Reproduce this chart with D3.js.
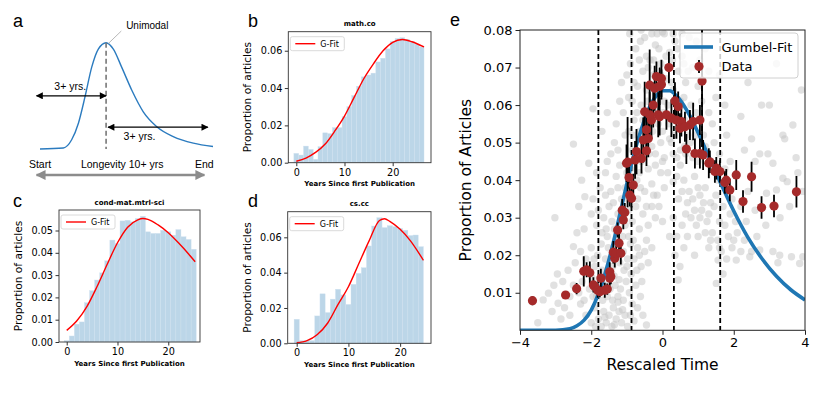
<!DOCTYPE html>
<html>
<head>
<meta charset="utf-8">
<script src="https://cdn.jsdelivr.net/npm/d3@7"></script>
<style>
  body { margin: 0; background: #fff; }
  svg { display: block; }
  text { font-family: "DejaVu Sans", sans-serif; fill: #000; }
  .sketch text, .letter { font-family: "Liberation Sans", Arial, sans-serif; }
</style>
</head>
<body>
<div id="chart"></div>
<script>
// ---- panel a: schematic curve (x: 0..10 years, y: 0..1 relative) ----
const sketchCurve = [
  [0, 0], [1.35, 0.01], [1.83, 0.087], [2.22, 0.243], [2.6, 0.49], [2.99, 0.77],
  [3.37, 0.94], [3.82, 1.0], [4.24, 0.94], [4.72, 0.77], [5.3, 0.555], [5.97, 0.35],
  [6.75, 0.21], [7.7, 0.117], [8.86, 0.055], [10, 0.024]
];
const sketchPeak = 3.82;

// ---- panels b, c, d: yearly histograms + G-Fit ----
const mathCoBars = [
  0.0050, 0.0041, 0.0089, 0.0071, 0.0018, 0.0086, 0.0160, 0.0156, 0.0188, 0.0188,
  0.0246, 0.0300, 0.0360, 0.0410, 0.0460, 0.0470, 0.0480, 0.0540, 0.0560, 0.0610,
  0.0650, 0.0666, 0.0670, 0.0660, 0.0650, 0.0636, 0.0620
];
const mathCoFit = [
  [0, 0.0008], [2, 0.0025], [4, 0.0055], [6, 0.0100], [8, 0.0170], [10, 0.0250],
  [12, 0.0350], [14, 0.0450], [16, 0.0530], [18, 0.0600], [20, 0.0645], [22, 0.0660],
  [24, 0.0648], [26.5, 0.0620]
];
const condMatBars = [
  0.0006, 0.0027, 0.0080, 0.0090, 0.0176, 0.0230, 0.0278, 0.0310, 0.0364, 0.0457,
  0.0442, 0.0543, 0.0546, 0.0539, 0.0554, 0.0564, 0.0494, 0.0487, 0.0487, 0.0501,
  0.0494, 0.0479, 0.0504, 0.0472, 0.0460, 0.0416
];
const condMatFit = [
  [0, 0.0052], [2, 0.0095], [4, 0.0160], [6, 0.0250], [8, 0.0350], [10, 0.0445],
  [12, 0.0515], [14, 0.0548], [15, 0.0554], [16, 0.0550], [18, 0.0525], [20, 0.0490],
  [22, 0.0445], [24, 0.0395], [25.3, 0.0360]
];
const csCcBars = [
  0.0136, 0.0015, 0.0015, 0.0015, 0.0155, 0.0280, 0.0174, 0.0250, 0.0306, 0.0274,
  0.0220, 0.0334, 0.0396, 0.0428, 0.0551, 0.0664, 0.0711, 0.0655, 0.0666, 0.0660,
  0.0650, 0.0640, 0.0610, 0.0613, 0.0547
];
const csCcFit = [
  [0, 0.0003], [2, 0.0015], [4, 0.0050], [6, 0.0115], [8, 0.0220], [10, 0.0320],
  [12, 0.0450], [14, 0.0580], [16, 0.0695], [17, 0.0705], [18, 0.0690], [20, 0.0645],
  [22, 0.0580], [24.5, 0.0470]
];

// ---- panel e: rescaled time ----
const gumbelFit = [
  [-4, 0], [-3, 0.00003], [-2.6, 0.0004], [-2.4, 0.0012], [-2.2, 0.0027], [-2.0, 0.0054],
  [-1.8, 0.0097], [-1.6, 0.0155], [-1.4, 0.0226], [-1.2, 0.0308], [-1.0, 0.0391],
  [-0.8, 0.0470], [-0.6, 0.0534], [-0.4, 0.0587], [-0.2, 0.0622], [0, 0.0638],
  [0.2, 0.0638], [0.4, 0.0624], [0.6, 0.0599], [0.8, 0.0566], [1.0, 0.0526],
  [1.2, 0.0484], [1.4, 0.0441], [1.6, 0.0399], [2.0, 0.0318], [2.4, 0.0247],
  [2.8, 0.0190], [3.2, 0.0144], [3.6, 0.0108], [4.0, 0.0081]
];
// [x, y, error]
const rescaledData = [
  [-3.65, 0.0079, 0.0012], [-2.72, 0.0094, 0.0008], [-2.41, 0.0111, 0.0015],
  [-2.21, 0.0157, 0.0040], [-2.13, 0.0161, 0.0020], [-2.04, 0.0153, 0.0030],
  [-1.94, 0.0121, 0.0020], [-1.90, 0.0116, 0.0015], [-1.82, 0.0107, 0.0020],
  [-1.76, 0.0103, 0.0015], [-1.73, 0.0139, 0.0025], [-1.62, 0.0107, 0.0020],
  [-1.55, 0.0110, 0.0015], [-1.48, 0.0139, 0.0020], [-1.48, 0.0156, 0.0025],
  [-1.45, 0.0143, 0.0020], [-1.38, 0.0208, 0.0030], [-1.34, 0.0192, 0.0025],
  [-1.30, 0.0205, 0.0020], [-1.22, 0.0232, 0.0025], [-1.17, 0.0205, 0.0030],
  [-1.26, 0.0267, 0.0020], [-1.10, 0.0294, 0.0025], [-1.13, 0.0320, 0.0030],
  [-1.06, 0.0314, 0.0025], [-0.92, 0.0360, 0.0030], [-0.87, 0.0352, 0.0025],
  [-0.82, 0.0387, 0.0030], [-0.94, 0.0407, 0.0030], [-1.01, 0.0445, 0.0050],
  [-0.98, 0.0448, 0.0120], [-0.77, 0.0454, 0.0050], [-0.73, 0.0476, 0.0060],
  [-0.59, 0.0458, 0.0040], [-0.45, 0.0478, 0.0040], [-0.54, 0.0507, 0.0060],
  [-0.40, 0.0511, 0.0050], [-0.45, 0.0534, 0.0050], [-0.31, 0.0560, 0.0050],
  [-0.36, 0.0574, 0.0060], [-0.12, 0.0574, 0.0060], [-0.50, 0.0582, 0.0080],
  [-0.26, 0.0600, 0.0060], [-0.36, 0.0653, 0.0095], [-0.22, 0.0645, 0.0060],
  [-0.17, 0.0676, 0.0040], [-0.03, 0.0671, 0.0050], [-0.03, 0.0655, 0.0040],
  [-0.08, 0.0650, 0.0050], [0.18, 0.0700, 0.0042], [-0.08, 0.0569, 0.0050],
  [0.11, 0.0574, 0.0040], [0.25, 0.0565, 0.0050], [0.35, 0.0611, 0.0050],
  [0.44, 0.0596, 0.0040], [0.39, 0.0560, 0.0050], [0.53, 0.0556, 0.0040],
  [0.49, 0.0538, 0.0040], [0.63, 0.0542, 0.0040], [0.77, 0.0547, 0.0040],
  [0.86, 0.0556, 0.0050], [1.05, 0.0560, 0.0040], [1.11, 0.0664, 0.0175],
  [0.67, 0.0483, 0.0040], [0.91, 0.0471, 0.0040], [1.05, 0.0471, 0.0040],
  [1.14, 0.0467, 0.0040], [1.30, 0.0445, 0.0040], [1.33, 0.0449, 0.0030],
  [1.47, 0.0423, 0.0030], [1.51, 0.0432, 0.0030], [1.61, 0.0423, 0.0030],
  [1.79, 0.0400, 0.0030], [1.75, 0.0394, 0.0030], [1.89, 0.0374, 0.0030],
  [2.07, 0.0414, 0.0040], [2.50, 0.0409, 0.0040], [2.26, 0.0343, 0.0030],
  [2.78, 0.0327, 0.0030], [3.13, 0.0331, 0.0030], [3.76, 0.0369, 0.0042]
];
const fieldPoints = [
  [-2.15, 0.004], [-2.0, 0.002], [-1.9, 0.006], [-1.8, 0.003], [-1.72, 0.001], [-1.65, 0.005],
  [-1.58, 0.002], [-1.5, 0.004], [-1.42, 0.001], [-1.38, 0.006], [-1.3, 0.003], [-1.22, 0.005],
  [-1.15, 0.002], [-1.05, 0.004], [-0.98, 0.001], [-0.45, 0.0014], [-2.3, 0.007], [-1.95, 0.009],
  [-2.5, 0.012], [-2.35, 0.010], [-2.2, 0.008], [-2.05, 0.011], [-1.98, 0.014], [-1.85, 0.009],
  [-1.78, 0.013], [-1.68, 0.008], [-1.6, 0.012], [-1.55, 0.009], [-1.47, 0.011], [-1.4, 0.008],
  [-1.33, 0.012], [-1.25, 0.009], [-1.18, 0.011], [-1.1, 0.008], [-1.02, 0.013], [-0.93, 0.010],
  [-0.85, 0.007], [-0.75, 0.012], [-1.45, 0.014], [-1.7, 0.016],
  [-2.45, 0.018], [-2.3, 0.021], [-2.15, 0.019], [-2.0, 0.022], [-1.9, 0.017], [-1.82, 0.020],
  [-1.72, 0.023], [-1.6, 0.019], [-1.52, 0.022], [-1.4, 0.017], [-1.3, 0.024], [-1.2, 0.018],
  [-1.1, 0.021], [-1.0, 0.017], [-0.9, 0.023], [-0.8, 0.019], [-0.7, 0.022], [-0.6, 0.017],
  [-0.5, 0.021], [-0.45, 0.024], [-0.95, 0.025], [-1.55, 0.025],
  [-2.2, 0.027], [-2.0, 0.031], [-1.85, 0.028], [-1.65, 0.030], [-1.5, 0.033], [-1.35, 0.027],
  [-1.25, 0.031], [-1.15, 0.035], [-1.05, 0.028], [-0.95, 0.032], [-0.85, 0.029], [-0.75, 0.033],
  [-0.65, 0.027], [-0.55, 0.031], [-0.4, 0.028], [-0.3, 0.033], [-0.2, 0.030], [-0.7, 0.035],
  [-1.7, 0.026],
  [-2.27, 0.040], [-2.18, 0.0356], [-2.07, 0.0445], [-1.75, 0.038], [-1.6, 0.042], [-1.45, 0.037],
  [-1.3, 0.041], [-1.2, 0.044], [-1.05, 0.038], [-0.9, 0.043], [-0.8, 0.039], [-0.65, 0.042],
  [-0.5, 0.037], [-0.4, 0.043], [-0.3, 0.039], [-0.15, 0.036], [-0.05, 0.042], [0.05, 0.038],
  [-0.6, 0.045],
  [-1.88, 0.001], [-1.62, 0.0035], [-1.35, 0.0015], [-1.25, 0.0075], [-1.12, 0.0055], [-0.9, 0.004],
  [-0.8, 0.0025], [-0.7, 0.006], [-0.62, 0.009], [-0.55, 0.004], [-2.25, 0.013], [-2.1, 0.016],
  [-1.92, 0.019], [-1.75, 0.0105], [-1.52, 0.016], [-1.36, 0.0145], [-1.22, 0.0135], [-1.08, 0.016],
  [-0.98, 0.019], [-0.88, 0.015], [-0.72, 0.016], [-0.58, 0.013], [-0.4, 0.018], [-0.3, 0.022],
  [-0.65, 0.020], [-0.82, 0.024], [-1.12, 0.025], [-1.42, 0.029], [-1.58, 0.027], [-1.8, 0.032],
  [-1.95, 0.035], [-1.12, 0.031], [-0.98, 0.035], [-0.62, 0.038], [-0.45, 0.033], [-0.25, 0.036],
  [-0.1, 0.033], [0.0, 0.029], [-0.88, 0.038], [-1.38, 0.034], [-1.6, 0.036], [-1.25, 0.038],
  [-0.72, 0.040], [-0.2, 0.044], [0.15, 0.042], [-1.0, 0.042], [-1.55, 0.045], [-1.85, 0.042],
  [-3.02, 0.030], [-2.5, 0.0223], [-3.2, 0.0099], [-3.35, 0.0081], [-2.93, 0.0072], [-3.1, 0.005],
  [-2.75, 0.006], [-2.6, 0.004], [-2.8, 0.013], [-2.65, 0.016], [-2.5, 0.0496], [-3.5, 0.002],
  [-2.95, 0.015], [-2.4, 0.026], [-2.6, 0.009], [-2.85, 0.003], [-3.05, 0.012], [-2.35, 0.033],
  [-1.15, 0.066], [-1.1, 0.058], [-1.05, 0.052], [-0.95, 0.062], [-0.9, 0.071], [-0.85, 0.048],
  [-0.8, 0.056], [-0.75, 0.075], [-0.7, 0.065], [-0.65, 0.053], [-0.6, 0.060], [-0.55, 0.069],
  [-0.5, 0.078], [-0.45, 0.064], [-0.4, 0.055], [-0.35, 0.072], [-0.3, 0.049], [-0.25, 0.068],
  [-0.2, 0.076], [-0.15, 0.058], [-0.1, 0.063], [-0.05, 0.071], [0.0, 0.053], [0.05, 0.079],
  [0.1, 0.067], [0.15, 0.060], [0.2, 0.074], [0.25, 0.050], [0.3, 0.064], [0.35, 0.077],
  [0.4, 0.057], [0.45, 0.069], [0.5, 0.048], [0.55, 0.073], [0.6, 0.062], [0.65, 0.066],
  [0.7, 0.052], [0.75, 0.078], [0.8, 0.060], [0.85, 0.070], [-0.92, 0.079], [-0.6, 0.080],
  [-0.3, 0.079], [0.0, 0.0795], [0.3, 0.079], [-0.7, 0.047], [-0.5, 0.050], [-0.2, 0.047],
  [0.05, 0.046], [0.2, 0.051], [0.4, 0.046], [-0.1, 0.075], [0.1, 0.073], [-0.4, 0.070],
  [-0.8, 0.066], [-0.65, 0.072], [0.5, 0.061], [0.25, 0.066], [-0.25, 0.058], [0.05, 0.061],
  [-0.05, 0.050], [-1.25, 0.048], [-1.3, 0.055], [-1.2, 0.061], [-1.35, 0.050], [-1.45, 0.047],
  [-1.55, 0.058], [-1.7, 0.053], [-1.95, 0.059], [1.0, 0.065], [1.05, 0.072], [0.95, 0.058],
  [1.2, 0.075], [1.3, 0.069], [1.3, 0.058], [1.5, 0.062], [1.4, 0.055],
  [-1.0, 0.068], [-0.85, 0.061], [-0.72, 0.058], [-0.55, 0.056], [-0.42, 0.061], [-0.28, 0.053],
  [-0.12, 0.055], [0.02, 0.058], [0.18, 0.055], [0.32, 0.052], [0.48, 0.055], [0.62, 0.056],
  [0.78, 0.050], [0.92, 0.052], [-0.95, 0.053], [-0.62, 0.077], [-0.45, 0.073], [-0.25, 0.072],
  [-0.05, 0.068], [0.15, 0.070], [0.28, 0.072], [0.42, 0.075], [0.6, 0.071], [0.72, 0.069],
  [0.95, 0.077], [-0.15, 0.079], [0.55, 0.079], [-0.82, 0.052], [-0.38, 0.047], [0.0, 0.045],
  [0.3, 0.047], [0.62, 0.049], [0.85, 0.046], [1.1, 0.061], [1.15, 0.052],
  [0.3, 0.0396], [0.45, 0.035], [0.6, 0.040], [0.75, 0.037], [0.9, 0.041], [1.05, 0.036],
  [0.8, 0.030], [0.95, 0.028], [1.1, 0.032], [1.25, 0.029], [1.4, 0.026], [1.55, 0.024],
  [1.65, 0.021], [1.75, 0.028], [1.85, 0.025], [1.95, 0.022], [2.1, 0.026], [2.3, 0.024],
  [2.5, 0.021], [1.2, 0.038], [1.35, 0.034], [1.5, 0.036], [1.7, 0.033], [1.9, 0.031],
  [2.05, 0.029], [2.2, 0.033], [0.55, 0.028], [0.7, 0.025], [0.5, 0.044], [0.65, 0.047],
  [1.0, 0.045], [1.2, 0.049], [1.45, 0.050], [0.49, 0.017], [0.44, 0.0134], [1.51, 0.0125],
  [0.4, 0.041], [0.55, 0.037], [0.7, 0.034], [0.85, 0.035], [1.0, 0.038], [1.15, 0.034],
  [1.3, 0.031], [1.45, 0.033], [1.6, 0.029], [0.65, 0.031], [0.9, 0.032], [1.05, 0.030],
  [1.2, 0.026], [1.35, 0.024], [1.6, 0.022], [1.8, 0.019], [2.0, 0.024], [2.2, 0.021],
  [2.35, 0.029], [1.95, 0.035], [1.55, 0.040], [1.75, 0.043], [2.4, 0.037], [2.65, 0.025],
  [0.4, 0.025], [0.6, 0.022], [1.0, 0.025], [0.35, 0.020],
  [1.7, 0.015], [1.56, 0.0187], [2.07, 0.0187], [2.45, 0.0196], [2.73, 0.0214], [3.1, 0.021],
  [3.29, 0.020], [3.24, 0.018], [3.62, 0.0196], [3.85, 0.0178], [3.94, 0.0196], [2.92, 0.0365],
  [3.2, 0.0374], [3.38, 0.0405], [3.57, 0.033], [3.94, 0.037], [3.5, 0.0396], [2.78, 0.060],
  [3.0, 0.060], [3.9, 0.064], [3.2, 0.071], [2.2, 0.057], [3.66, 0.0547], [2.73, 0.047],
  [2.96, 0.047], [3.38, 0.052], [3.43, 0.051], [3.1, 0.0445], [3.8, 0.042], [2.6, 0.045],
  [2.3, 0.048], [1.8, 0.052], [1.6, 0.047], [2.9, 0.028], [3.3, 0.030], [2.6, 0.032],
  [1.3, 0.022], [0.9, 0.020], [0.3, 0.030], [0.2, 0.025], [2.5, 0.051], [1.9, 0.045],
  [1.75, 0.060], [2.4, 0.066], [1.6, 0.068], [3.75, 0.046]
];
const cutoffs = [-1.8, -0.87, 0.32, 1.62];
const partialCutoff = 1.11;
const eYTicks = [0.01, 0.02, 0.03, 0.04, 0.05, 0.06, 0.07, 0.08];
const eXTicks = [-4, -2, 0, 2, 4];

const width = 830, height = 396;
const svg = d3.select("#chart").append("svg")
  .attr("width", width).attr("height", height);
const defs = svg.append("defs");

function marker(id, color, w, h) {
  defs.append("marker")
    .attr("id", id)
    .attr("viewBox", "0 0 10 10")
    .attr("refX", 9).attr("refY", 5)
    .attr("markerUnits", "userSpaceOnUse")
    .attr("markerWidth", w).attr("markerHeight", h)
    .attr("orient", "auto-start-reverse")
    .append("path")
    .attr("d", "M0,0 L10,5 L0,10 z")
    .attr("fill", color);
}
marker("arrow-black", "#000", 8, 7);
marker("arrow-grey", "#8c8c8c", 10, 10);

function letter(txt, x, y) {
  svg.append("text").attr("class", "letter")
    .attr("x", x).attr("y", y)
    .attr("font-size", 18)
    .text(txt);
}

// ---------------- panel a ----------------
function drawSketch() {
  const g = svg.append("g").attr("class", "sketch");
  const x = d3.scaleLinear().domain([0, 10]).range([40, 213]);
  const y = d3.scaleLinear().domain([0, 1]).range([149, 42.7]);

  g.append("path")
    .datum(sketchCurve)
    .attr("d", d3.line().x((d) => x(d[0])).y((d) => y(d[1])).curve(d3.curveMonotoneX))
    .attr("fill", "none")
    .attr("stroke", "#2b7bbf")
    .attr("stroke-width", 1.4);

  g.append("line")
    .attr("x1", x(sketchPeak)).attr("x2", x(sketchPeak))
    .attr("y1", y(1)).attr("y2", y(0))
    .attr("stroke", "#777").attr("stroke-width", 1.6)
    .attr("stroke-dasharray", "5,3");

  // leader to "Unimodal"
  g.append("line")
    .attr("x1", x(sketchPeak) + 2).attr("y1", y(0.99))
    .attr("x2", x(4.7)).attr("y2", y(1.11))
    .attr("stroke", "#999").attr("stroke-width", 0.7);
  g.append("text").attr("x", x(6.2)).attr("y", 29)
    .attr("text-anchor", "middle").attr("font-size", 10).text("Unimodal");

  const arrow = (x1, x2, yy, id, color, sw) =>
    g.append("line")
      .attr("x1", x1).attr("x2", x2).attr("y1", yy).attr("y2", yy)
      .attr("stroke", color).attr("stroke-width", sw)
      .attr("marker-start", `url(#${id})`)
      .attr("marker-end", `url(#${id})`);

  arrow(x(-0.2), x(sketchPeak), y(0.5), "arrow-black", "#000", 1.2);
  g.append("text").attr("x", x(1.75)).attr("y", 89.5)
    .attr("text-anchor", "middle").attr("font-size", 10.5).text("3+ yrs.");

  arrow(x(sketchPeak) + 2, x(9.7), y(0.205), "arrow-black", "#000", 1.2);
  g.append("text").attr("x", x(5.75)).attr("y", 140)
    .attr("text-anchor", "middle").attr("font-size", 10.5).text("3+ yrs.");

  g.selectAll("text.bottom")
    .data([["Start", 0], ["Longevity 10+ yrs", 4.75], ["End", 9.5]])
    .join("text")
    .attr("class", "bottom")
    .attr("x", (d) => x(d[1])).attr("y", 167.5)
    .attr("text-anchor", "middle").attr("font-size", 10.5)
    .text((d) => d[0]);

  arrow(x(-0.2), x(9.5), 175, "arrow-grey", "#8c8c8c", 2.6);
}

// ---------------- panels b, c, d ----------------
function drawHist(cfg) {
  const g = svg.append("g");
  const x = d3.scaleLinear().domain(cfg.xDomain).range([cfg.left, cfg.right]);
  const y = d3.scaleLinear().domain([0, cfg.yMax]).range([cfg.bottom, cfg.top]);

  g.selectAll("rect")
    .data(cfg.bars)
    .join("rect")
    .attr("x", (d, i) => x(i - 0.5))
    .attr("width", (d, i) => x(i + 0.5) - x(i - 0.5))
    .attr("y", (d) => y(d))
    .attr("height", (d) => y(0) - y(d))
    .attr("fill", "#bcd6e8")
    .attr("stroke", "#cfe1ef")
    .attr("stroke-width", 0.4);

  g.append("path")
    .datum(cfg.fit)
    .attr("d", d3.line().x((d) => x(d[0])).y((d) => y(d[1])).curve(d3.curveMonotoneX))
    .attr("fill", "none")
    .attr("stroke", "#ff0000")
    .attr("stroke-width", 1.4);

  g.append("rect")
    .attr("x", cfg.left).attr("y", cfg.top)
    .attr("width", cfg.right - cfg.left).attr("height", cfg.bottom - cfg.top)
    .attr("fill", "none").attr("stroke", "#333").attr("stroke-width", 0.9);

  const xa = g.append("g")
    .attr("transform", `translate(0,${cfg.bottom})`)
    .call(d3.axisBottom(x).tickValues([0, 10, 20]).tickSize(3.5).tickPadding(2.5).tickFormat(d3.format("d")));
  const ya = g.append("g")
    .attr("transform", `translate(${cfg.left},0)`)
    .call(d3.axisLeft(y).tickValues(cfg.yTicks).tickSize(3.5).tickPadding(2.5).tickFormat(d3.format(".2f")));
  [xa, ya].forEach((a) => {
    a.select(".domain").remove();
    a.selectAll("line").attr("stroke", "#333");
    a.selectAll("text").attr("font-size", 9.7).attr("font-family", "DejaVu Sans").attr("fill", "#000");
  });

  const cx = (cfg.left + cfg.right) / 2;
  g.append("text").attr("x", cx).attr("y", cfg.top - 5.5)
    .attr("text-anchor", "middle").attr("font-size", 7).attr("font-weight", "bold")
    .text(cfg.title);
  g.append("text").attr("x", cx).attr("y", cfg.bottom + 23.5)
    .attr("text-anchor", "middle").attr("font-size", 7).attr("font-weight", "bold")
    .text("Years Since first Publication");
  g.append("text")
    .attr("transform", `translate(${cfg.labelX},${(cfg.top + cfg.bottom) / 2}) rotate(-90)`)
    .attr("text-anchor", "middle").attr("font-size", 10.6)
    .text("Proportion of articles");

  // legend
  const lg = g.append("g").attr("transform", `translate(${cfg.left + 2},${cfg.top + 5})`);
  lg.append("rect").attr("width", 54).attr("height", 14).attr("rx", 2)
    .attr("fill", "#fff").attr("fill-opacity", 0.8)
    .attr("stroke", "#d0d0d0").attr("stroke-width", 0.8);
  lg.append("line").attr("x1", 5).attr("x2", 25).attr("y1", 7).attr("y2", 7)
    .attr("stroke", "#ff0000").attr("stroke-width", 1.4);
  lg.append("text").attr("x", 30).attr("y", 10).attr("font-size", 8).text("G-Fit");
}

// ---------------- panel e ----------------
function drawRescaled() {
  const left = 520, right = 805, top = 30, bottom = 330.3;
  const g = svg.append("g");
  const x = d3.scaleLinear().domain([-4, 4]).range([left, right]);
  const y = d3.scaleLinear().domain([0, 0.08]).range([bottom, top]);

  defs.append("clipPath").attr("id", "clip-e")
    .append("rect").attr("x", left).attr("y", top)
    .attr("width", right - left).attr("height", bottom - top);

  const plot = g.append("g").attr("clip-path", "url(#clip-e)");

  plot.selectAll("circle.field")
    .data(fieldPoints)
    .join("circle")
    .attr("class", "field")
    .attr("cx", (d) => x(d[0])).attr("cy", (d) => y(d[1]))
    .attr("r", 3.7)
    .attr("fill", "#c4c4c4").attr("fill-opacity", 0.5);

  plot.selectAll("line.cut")
    .data(cutoffs)
    .join("line")
    .attr("class", "cut")
    .attr("x1", (d) => x(d)).attr("x2", (d) => x(d))
    .attr("y1", y(0.08)).attr("y2", y(0))
    .attr("stroke", "#000").attr("stroke-width", 1.8)
    .attr("stroke-dasharray", "5,3");
  plot.append("line")
    .attr("x1", x(partialCutoff)).attr("x2", x(partialCutoff))
    .attr("y1", y(0.08)).attr("y2", y(0.046))
    .attr("stroke", "#000").attr("stroke-width", 1.8)
    .attr("stroke-dasharray", "5,3");

  plot.append("path")
    .datum(gumbelFit)
    .attr("d", d3.line().x((d) => x(d[0])).y((d) => y(d[1])).curve(d3.curveMonotoneX))
    .attr("fill", "none")
    .attr("stroke", "#1f77b4")
    .attr("stroke-width", 3.6);

  plot.selectAll("line.err")
    .data(rescaledData)
    .join("line")
    .attr("class", "err")
    .attr("x1", (d) => x(d[0])).attr("x2", (d) => x(d[0]))
    .attr("y1", (d) => y(d[1] - d[2])).attr("y2", (d) => y(d[1] + d[2]))
    .attr("stroke", "#000").attr("stroke-width", 1.8);

  plot.selectAll("circle.data")
    .data(rescaledData)
    .join("circle")
    .attr("class", "data")
    .attr("cx", (d) => x(d[0])).attr("cy", (d) => y(d[1]))
    .attr("r", 4.6)
    .attr("fill", "#a52a2a");

  g.append("rect")
    .attr("x", left).attr("y", top)
    .attr("width", right - left).attr("height", bottom - top)
    .attr("fill", "none").attr("stroke", "#222").attr("stroke-width", 1);

  const xa = g.append("g")
    .attr("transform", `translate(0,${bottom})`)
    .call(d3.axisBottom(x).tickValues(eXTicks).tickSize(4.5).tickPadding(3).tickFormat(d3.format("d")));
  const ya = g.append("g")
    .attr("transform", `translate(${left},0)`)
    .call(d3.axisLeft(y).tickValues(eYTicks).tickSize(4.5).tickPadding(3).tickFormat(d3.format(".2f")));
  [xa, ya].forEach((a) => {
    a.select(".domain").remove();
    a.selectAll("line").attr("stroke", "#222");
    a.selectAll("text").attr("font-size", 13).attr("font-family", "DejaVu Sans").attr("fill", "#000");
  });

  g.append("text").attr("x", (left + right) / 2).attr("y", 369.5)
    .attr("text-anchor", "middle").attr("font-size", 15.5).text("Rescaled Time");
  g.append("text")
    .attr("transform", `translate(471,${(top + bottom) / 2}) rotate(-90)`)
    .attr("text-anchor", "middle").attr("font-size", 15.5)
    .text("Proportion of Articles");

  // legend
  const lg = g.append("g").attr("transform", "translate(680,33)");
  lg.append("rect").attr("width", 118).attr("height", 45).attr("rx", 3)
    .attr("fill", "#fff").attr("fill-opacity", 0.8)
    .attr("stroke", "#d0d0d0").attr("stroke-width", 1);
  lg.append("line").attr("x1", 4).attr("x2", 33).attr("y1", 14).attr("y2", 14)
    .attr("stroke", "#1f77b4").attr("stroke-width", 3.6);
  lg.append("text").attr("x", 41.5).attr("y", 19).attr("font-size", 13).text("Gumbel-Fit");
  lg.append("line").attr("x1", 19).attr("x2", 19).attr("y1", 27).attr("y2", 40)
    .attr("stroke", "#000").attr("stroke-width", 1.8);
  lg.append("circle").attr("cx", 19).attr("cy", 33.5).attr("r", 4.6).attr("fill", "#a52a2a");
  lg.append("text").attr("x", 41.5).attr("y", 38.3).attr("font-size", 13).text("Data");
}

drawSketch();
drawHist({
  bars: mathCoBars, fit: mathCoFit, title: "math.co",
  left: 288.3, right: 431, top: 31.7, bottom: 162.7,
  xDomain: [-1.66, 27.95], yMax: 0.0702, yTicks: [0, 0.02, 0.04, 0.06], labelX: 251
});
drawHist({
  bars: condMatBars, fit: condMatFit, title: "cond-mat.mtrl-sci",
  left: 59, right: 200, top: 210, bottom: 342,
  xDomain: [-1.52, 26.25], yMax: 0.0592, yTicks: [0, 0.01, 0.02, 0.03, 0.04, 0.05], labelX: 21.5
});
drawHist({
  bars: csCcBars, fit: csCcFit, title: "cs.cc",
  left: 287.7, right: 431, top: 211.7, bottom: 343.3,
  xDomain: [-1.74, 25.97], yMax: 0.0745, yTicks: [0, 0.02, 0.04, 0.06], labelX: 251
});
drawRescaled();

letter("a", 13, 27);
letter("b", 248, 27);
letter("c", 13, 207);
letter("d", 248, 207);
letter("e", 450, 26);
</script>
</body>
</html>
